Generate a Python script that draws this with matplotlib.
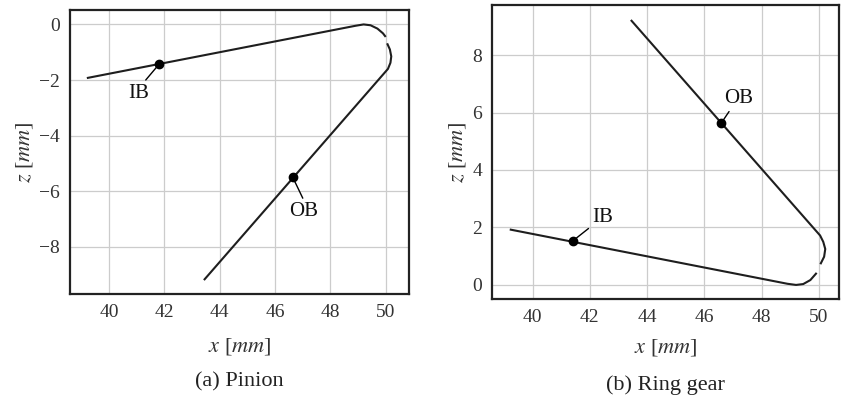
import matplotlib
matplotlib.use("Agg")
import matplotlib.pyplot as plt

plt.rcParams['font.family'] = ['Liberation Serif', 'DejaVu Serif']
plt.rcParams['mathtext.fontset'] = 'stix'

# Pinion contact path (two pieces separated by a small gap)
pin_x1 = [39.2, 48.9, 49.2, 49.45, 49.7, 49.9, 50.0]
pin_z1 = [-1.93, -0.05, 0.0, -0.03, -0.15, -0.32, -0.45]
pin_x2 = [50.05, 50.15, 50.2, 50.17, 50.08, 43.43]
pin_z2 = [-0.68, -0.9, -1.15, -1.38, -1.6, -9.2]
pin_ib = (41.82, -1.42)
pin_ob = (46.64, -5.5)

# Ring gear contact path
ring_x1 = [39.2, 48.9, 49.2, 49.45, 49.7, 49.92]
ring_z1 = [1.93, 0.04, 0.0, 0.03, 0.17, 0.42]
ring_x2 = [50.05, 50.18, 50.22, 50.15, 50.04, 43.43]
ring_z2 = [0.72, 0.98, 1.25, 1.5, 1.72, 9.22]
ring_ib = (41.4, 1.53)
ring_ob = (46.58, 5.62)

xticks = [40, 42, 44, 46, 48, 50]
pin_yticks = [0, -2, -4, -6, -8]
ring_yticks = [0, 2, 4, 6, 8]

fig = plt.figure(figsize=(8.45, 3.99), dpi=100)
ax1 = fig.add_axes([0.0828, 0.2632, 0.4012, 0.7118])
ax2 = fig.add_axes([0.5819, 0.2506, 0.4110, 0.7368])

lc = '#1e1e1e'
fs_lab = 15

def style(ax, yt, xl, yl, xpad):
    ax.set_xticks(xticks)
    ax.set_yticks(yt)
    ax.set_xlim(*xl)
    ax.set_ylim(*yl)
    ax.grid(True, color='#cccccc', lw=0.9)
    ax.set_axisbelow(True)
    for s in ax.spines.values():
        s.set_linewidth(1.6)
        s.set_color('#222222')
    ax.tick_params(length=0, labelsize=14, colors='#333333', pad=7)
    ax.set_xlabel('$x$ [$mm$]', fontsize=16, color='#333333', labelpad=xpad)
    ax.set_ylabel('$z$ [$mm$]', fontsize=16, color='#333333', labelpad=3)

def label(ax, txt, pt, tpos, rel):
    ax.annotate(txt, xy=pt, xytext=tpos, fontsize=fs_lab, ha='center', va='center',
                color='#111111',
                arrowprops=dict(arrowstyle='-', color='black', lw=1.0,
                                shrinkA=1, shrinkB=2, relpos=rel))

# Pinion
ax1.plot(pin_x1, pin_z1, color=lc, lw=1.5, solid_capstyle='butt')
ax1.plot(pin_x2, pin_z2, color=lc, lw=1.5, solid_capstyle='butt')
ax1.plot(*pin_ib, 'o', color='black', ms=6)
ax1.plot(*pin_ob, 'o', color='black', ms=6)
label(ax1, 'IB', pin_ib, (41.06, -2.48), (0.7, 1.0))
label(ax1, 'OB', pin_ob, (47.02, -6.74), (0.55, 1.0))
style(ax1, pin_yticks, (38.59, 50.84), (-9.7, 0.52), 11)

# Ring gear
ax2.plot(ring_x1, ring_z1, color=lc, lw=1.5, solid_capstyle='butt')
ax2.plot(ring_x2, ring_z2, color=lc, lw=1.5, solid_capstyle='butt')
ax2.plot(*ring_ib, 'o', color='black', ms=6)
ax2.plot(*ring_ob, 'o', color='black', ms=6)
label(ax2, 'IB', ring_ib, (42.45, 2.33), (0.05, 0.15))
label(ax2, 'OB', ring_ob, (47.2, 6.5), (0.3, 0.1))
style(ax2, ring_yticks, (38.57, 50.7), (-0.49, 9.74), 8)

fig.text((70 + 409) / 2 / 845, 1 - 382 / 399, '(a) Pinion', ha='center', va='center',
         fontsize=16, color='#222222')
fig.text((491.7 + 839) / 2 / 845, 1 - 385 / 399, '(b) Ring gear', ha='center', va='center',
         fontsize=16, color='#222222')

fig.savefig('out.png', dpi=100)
